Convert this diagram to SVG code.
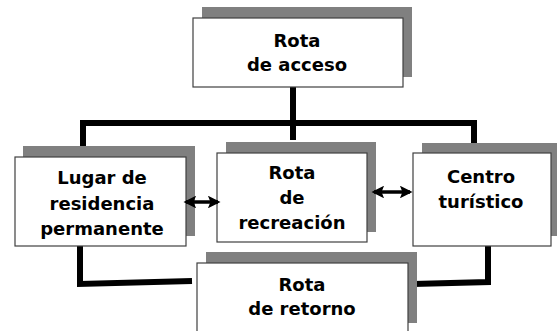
<svg xmlns="http://www.w3.org/2000/svg" width="557" height="331" viewBox="0 0 557 331">
<style>
.sh{fill:#808080}
.bx{fill:#fff;stroke:#404040;stroke-width:1.2}
.t{font-family:"DejaVu Sans",Verdana,sans-serif;font-weight:bold;font-size:18px;fill:#000;text-anchor:middle}
.ln{fill:none;stroke:#000;stroke-width:6;stroke-linejoin:miter}
.ar{fill:none;stroke:#000;stroke-width:3.5}
</style>
<defs>
<marker id="ah" viewBox="0 0 10 10" refX="8" refY="5" markerWidth="3.6" markerHeight="3.6" orient="auto-start-reverse" markerUnits="strokeWidth">
<path d="M0,0 L10,5 L0,10 L2,5 Z" fill="#000"/>
</marker>
</defs>
<g id="connectors">
<polyline class="ln" points="293,87 293,140"/>
<polyline class="ln" points="83,157 83,123 474,123 474,153"/>
<polyline class="ln" points="80,246 80,284 192,281"/>
<polyline class="ln" points="488,246 488,282 413,284"/>
</g>
<g id="acceso">
<rect class="sh" x="202" y="7" width="210" height="70"/>
<rect class="bx" x="193" y="18" width="210" height="69"/>
<text class="t" x="297" y="47">Rota</text>
<text class="t" x="297" y="71">de acceso</text>
</g>
<g id="lugar">
<rect class="sh" x="23" y="146" width="172" height="90"/>
<rect class="bx" x="15" y="157" width="171" height="89"/>
<text class="t" x="102" y="184">Lugar de</text>
<text class="t" x="102" y="210">residencia</text>
<text class="t" x="102" y="235">permanente</text>
</g>
<g id="recreacion">
<rect class="sh" x="226" y="142" width="150" height="90"/>
<rect class="bx" x="217" y="153" width="150" height="89"/>
<text class="t" x="292" y="179">Rota</text>
<text class="t" x="292" y="204">de</text>
<text class="t" x="292" y="229">recreación</text>
</g>
<g id="centro">
<rect class="sh" x="422" y="143" width="140" height="93"/>
<rect class="bx" x="413" y="153" width="138" height="93"/>
<text class="t" x="481" y="183">Centro</text>
<text class="t" x="481" y="208">turístico</text>
</g>
<g id="retorno">
<rect class="sh" x="206" y="252" width="211" height="71"/>
<rect class="bx" x="197" y="263" width="211" height="80"/>
<text class="t" x="302" y="291">Rota</text>
<text class="t" x="302" y="315">de retorno</text>
</g>
<g id="arrows">
<line class="ar" x1="186" y1="202" x2="218" y2="202" marker-start="url(#ah)" marker-end="url(#ah)"/>
<line class="ar" x1="374" y1="192" x2="410" y2="192" marker-start="url(#ah)" marker-end="url(#ah)"/>
</g>
</svg>
